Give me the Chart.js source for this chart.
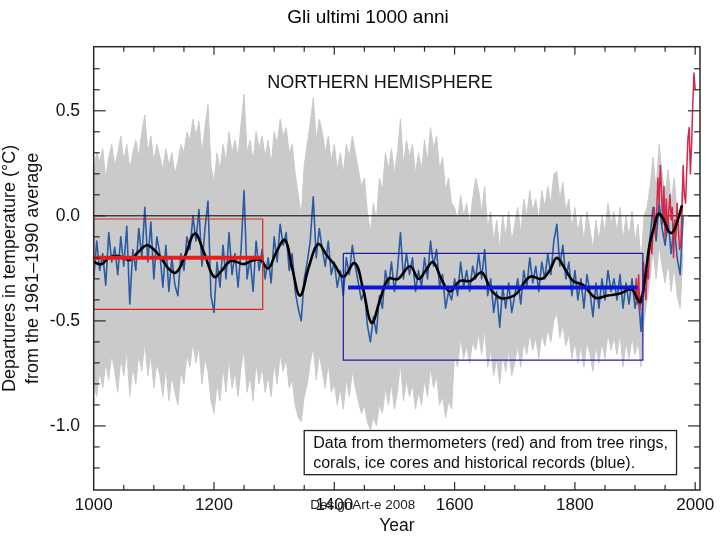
<!DOCTYPE html>
<html><head><meta charset="utf-8">
<script src="https://cdn.jsdelivr.net/npm/chart.js@4/dist/chart.umd.min.js"></script>
<style>html,body{margin:0;padding:0;background:#fff}</style>
</head><body>
<canvas id="c" width="720" height="540"></canvas>
<script>
// ---------- text ----------
const chartTitle = 'Gli ultimi 1000 anni';
const xTitle = 'Year';
const yTitle = ['Departures in temperature (\u00B0C)', 'from the 1961\u20131990 average'];
const panelLabel = 'NORTHERN HEMISPHERE';
const noteLines = ['Data from thermometers (red) and from tree rings,', 'corals, ice cores and historical records (blue).'];
const watermark = 'DesignArt-e 2008';

// ---------- ticks ----------
const xLabelTicks = [1000, 1200, 1400, 1600, 1800, 2000];
const xMinorTicks = [1050,1100,1150,1200,1250,1300,1350,1400,1450,1500,1550,1600,1650,1700,1750,1800,1850,1900,1950,2000];
const yLabelTicks = [-1.0, -0.5, 0.0, 0.5];
const yMinorTicks = [-1.2,-1.1,-1.0,-0.9,-0.8,-0.7,-0.6,-0.5,-0.4,-0.3,-0.2,-0.1,0.0,0.1,0.2,0.3,0.4,0.5,0.6,0.7];

// ---------- proxy reconstruction (5-year samples) ----------
const years = [
1000,1005,1010,1015,1020,1025,1030,1035,1040,1045,1050,1055,1060,1065,1070,1075,1080,1085,1090,1095,
1100,1105,1110,1115,1120,1125,1130,1135,1140,1145,1150,1155,1160,1165,1170,1175,1180,1185,1190,1195,
1200,1205,1210,1215,1220,1225,1230,1235,1240,1245,1250,1255,1260,1265,1270,1275,1280,1285,1290,1295,
1300,1305,1310,1315,1320,1325,1330,1335,1340,1345,1350,1355,1360,1365,1370,1375,1380,1385,1390,1395,
1400,1405,1410,1415,1420,1425,1430,1435,1440,1445,1450,1455,1460,1465,1470,1475,1480,1485,1490,1495,
1500,1505,1510,1515,1520,1525,1530,1535,1540,1545,1550,1555,1560,1565,1570,1575,1580,1585,1590,1595,
1600,1605,1610,1615,1620,1625,1630,1635,1640,1645,1650,1655,1660,1665,1670,1675,1680,1685,1690,1695,
1700,1705,1710,1715,1720,1725,1730,1735,1740,1745,1750,1755,1760,1765,1770,1775,1780,1785,1790,1795,
1800,1805,1810,1815,1820,1825,1830,1835,1840,1845,1850,1855,1860,1865,1870,1875,1880,1885,1890,1895,
1900,1905,1910,1915,1920,1925,1930,1935,1940,1945,1950,1955,1960,1965,1970,1975,1980];

const blueValues = [
-0.30,-0.12,-0.26,-0.18,-0.33,-0.08,-0.22,-0.15,-0.28,-0.10,-0.24,-0.05,-0.42,-0.16,-0.26,-0.06,-0.20,0.04,-0.22,-0.03,
-0.30,-0.10,-0.18,-0.34,-0.14,-0.36,-0.20,-0.33,-0.38,-0.18,-0.26,-0.10,-0.16,0.00,-0.12,0.03,-0.24,-0.06,0.07,-0.38,
-0.46,-0.22,-0.34,-0.14,-0.30,-0.08,-0.28,-0.18,-0.34,-0.16,0.12,-0.30,-0.20,-0.36,-0.12,-0.26,-0.16,-0.30,-0.20,-0.32,
-0.10,-0.22,-0.04,-0.14,-0.08,-0.26,-0.18,-0.36,-0.44,-0.50,-0.30,-0.22,-0.12,0.09,-0.20,-0.06,-0.16,-0.24,-0.12,-0.28,
-0.22,-0.34,-0.26,-0.38,-0.20,-0.28,-0.14,-0.24,-0.32,-0.40,-0.36,-0.52,-0.60,-0.48,-0.56,-0.38,-0.44,-0.26,-0.34,-0.22,
-0.36,-0.26,-0.08,-0.30,-0.18,-0.28,-0.20,-0.36,-0.26,-0.34,-0.20,-0.30,-0.12,-0.24,-0.16,-0.34,-0.28,-0.44,-0.36,-0.40,
-0.30,-0.38,-0.22,-0.34,-0.26,-0.36,-0.24,-0.30,-0.18,-0.30,-0.16,-0.38,-0.30,-0.46,-0.36,-0.53,-0.34,-0.44,-0.32,-0.46,
-0.38,-0.30,-0.42,-0.26,-0.34,-0.20,-0.32,-0.24,-0.36,-0.22,-0.30,-0.18,-0.28,-0.12,-0.04,-0.24,-0.14,-0.30,-0.22,-0.38,
-0.26,-0.40,-0.30,-0.44,-0.28,-0.36,-0.48,-0.32,-0.44,-0.30,-0.40,-0.26,-0.36,-0.30,-0.40,-0.28,-0.44,-0.32,-0.42,-0.30,
-0.44,-0.36,-0.55,-0.30,-0.22,-0.10,0.04,-0.12,0.06,-0.06,-0.14,-0.02,-0.18,-0.04,-0.20,-0.28,0.00];

const grayUpper = [
0.20,0.30,0.26,0.32,0.18,0.28,0.34,0.24,0.30,0.38,0.26,0.34,0.22,0.30,0.36,0.28,0.40,0.48,0.30,0.38,
0.26,0.34,0.28,0.22,0.32,0.24,0.30,0.20,0.26,0.34,0.30,0.40,0.36,0.46,0.38,0.45,0.30,0.42,0.53,0.24,
0.16,0.30,0.22,0.34,0.26,0.40,0.30,0.36,0.28,0.44,0.58,0.30,0.36,0.26,0.40,0.32,0.38,0.28,0.36,0.24,
0.40,0.34,0.46,0.38,0.42,0.30,0.34,0.20,0.10,0.00,0.24,0.34,0.44,0.56,0.36,0.46,0.40,0.30,0.38,0.26,
0.34,0.22,0.30,0.20,0.34,0.28,0.38,0.30,0.22,0.14,0.18,0.02,-0.08,0.06,-0.02,0.18,0.12,0.30,0.22,0.32,
0.20,0.30,0.46,0.24,0.36,0.28,0.34,0.20,0.30,0.22,0.36,0.26,0.42,0.32,0.38,0.22,0.28,0.12,0.18,0.06,
0.04,-0.02,0.10,0.00,0.06,-0.04,0.08,0.18,0.12,0.02,0.14,-0.06,0.02,-0.12,-0.02,-0.16,0.00,-0.10,0.02,-0.12,
-0.04,0.04,-0.08,0.08,0.00,0.12,0.02,0.08,-0.02,0.12,0.04,0.14,0.06,0.20,0.21,0.08,0.16,0.02,0.08,-0.06,
0.04,-0.08,0.00,-0.12,0.02,-0.06,-0.16,-0.02,-0.12,0.00,-0.08,0.06,-0.04,0.02,-0.08,0.04,-0.12,0.00,-0.10,0.02,
-0.12,-0.04,-0.22,0.00,0.04,0.14,0.28,0.12,0.34,0.20,0.10,0.22,0.06,0.18,0.02,-0.04,0.20];

const grayLower = [
-0.80,-0.86,-0.74,-0.82,-0.70,-0.78,-0.66,-0.74,-0.84,-0.68,-0.76,-0.64,-0.86,-0.72,-0.80,-0.66,-0.74,-0.60,-0.76,-0.66,
-0.82,-0.70,-0.76,-0.86,-0.72,-0.88,-0.76,-0.84,-0.90,-0.74,-0.80,-0.66,-0.72,-0.60,-0.70,-0.62,-0.80,-0.68,-0.74,-0.88,
-0.94,-0.80,-0.88,-0.72,-0.84,-0.68,-0.82,-0.74,-0.86,-0.72,-0.64,-0.84,-0.76,-0.88,-0.70,-0.80,-0.72,-0.84,-0.76,-0.86,
-0.70,-0.80,-0.66,-0.74,-0.68,-0.82,-0.78,-0.90,-0.96,-0.98,-0.86,-0.80,-0.70,-0.62,-0.78,-0.66,-0.74,-0.82,-0.70,-0.84,
-0.80,-0.90,-0.82,-0.92,-0.78,-0.86,-0.74,-0.82,-0.88,-0.94,-0.90,-0.98,-1.02,-0.96,-1.00,-0.90,-0.94,-0.82,-0.90,-0.80,
-0.92,-0.84,-0.70,-0.88,-0.78,-0.86,-0.80,-0.92,-0.84,-0.90,-0.78,-0.86,-0.72,-0.82,-0.76,-0.90,-0.86,-0.96,-0.88,-0.92,
-0.66,-0.72,-0.58,-0.68,-0.62,-0.70,-0.60,-0.64,-0.56,-0.66,-0.54,-0.72,-0.64,-0.76,-0.68,-0.80,-0.66,-0.74,-0.64,-0.76,
-0.70,-0.62,-0.72,-0.60,-0.66,-0.56,-0.64,-0.58,-0.68,-0.56,-0.62,-0.54,-0.60,-0.50,-0.46,-0.58,-0.52,-0.62,-0.56,-0.68,
-0.60,-0.70,-0.62,-0.72,-0.60,-0.66,-0.74,-0.62,-0.70,-0.60,-0.68,-0.56,-0.64,-0.58,-0.66,-0.56,-0.72,-0.60,-0.68,-0.58,
-0.66,-0.60,-0.72,-0.50,-0.40,-0.30,-0.16,-0.30,-0.14,-0.24,-0.32,-0.22,-0.36,-0.24,-0.38,-0.44,-0.18];

// ---------- smoothed curve ----------
const smoothYears = [1000,1013,1025,1038,1050,1060,1075,1088,1100,1112,1124,1137,1152,1168,1184,1200,1213,1227,1238,1249,
1262,1277,1290,1304,1318,1330,1343,1358,1373,1388,1401,1415,1434,1448,1462,1476,1490,1506,1526,1540,
1552,1564,1578,1592,1609,1626,1645,1660,1675,1690,1703,1725,1745,1758,1770,1785,1797,1814,1834,1853,
1875,1894,1903,1909,1917,1924,1932,1939,1948,1955,1962,1970,1978];
const smoothValues = [-0.22,-0.23,-0.20,-0.19,-0.20,-0.21,-0.17,-0.14,-0.16,-0.20,-0.25,-0.27,-0.19,-0.085,-0.18,-0.29,-0.26,-0.215,-0.22,-0.23,
-0.215,-0.21,-0.25,-0.17,-0.115,-0.25,-0.38,-0.24,-0.135,-0.19,-0.235,-0.29,-0.225,-0.35,-0.51,-0.40,-0.30,-0.30,-0.24,-0.30,
-0.26,-0.22,-0.30,-0.36,-0.31,-0.31,-0.27,-0.35,-0.39,-0.39,-0.37,-0.29,-0.30,-0.26,-0.20,-0.26,-0.31,-0.33,-0.39,-0.38,
-0.37,-0.35,-0.39,-0.41,-0.29,-0.14,-0.05,0.01,-0.02,-0.07,-0.08,-0.03,0.05];

// ---------- thermometer record ----------
const thermoYears = [1900,1902,1904,1906,1908,1910,1912,1914,1916,1918,1920,1922,1924,1926,1928,1930,1932,1934,1936,1938,
1940,1942,1944,1946,1948,1950,1952,1954,1956,1958,1960,1962,1964,1966,1968,1970,1972,1974,1976,1978,
1980,1982,1984,1986,1988,1990,1992,1994,1996,1998,2000];
const thermoValues = [-0.40,-0.30,-0.42,-0.28,-0.45,-0.38,-0.42,-0.22,-0.34,-0.40,-0.26,-0.30,-0.18,-0.10,-0.18,-0.06,0.04,-0.10,0.02,0.18,
0.06,0.24,0.12,-0.04,0.14,-0.10,0.08,-0.08,0.02,0.10,-0.02,0.04,-0.20,-0.02,-0.10,0.06,-0.06,-0.16,-0.14,0.02,
0.24,0.10,0.06,0.22,0.37,0.42,0.20,0.34,0.53,0.68,0.60];

// ---------- highlighted periods ----------
const zeroYears = [1000, 2008];
const zeroValues = [0, 0];
const redPeriod = [1000, 1281];
const redRange = [-0.015, -0.445];
const redMean = [-0.20, -0.20];
const bluePeriod = [1415, 1913];
const blueRange = [-0.179, -0.687];
const blueMeanPeriod = [1423, 1904];
const blueMean = [-0.341, -0.341];

// ---------- build ----------
const pts = (xs, ys) => xs.map((v, i) => ({ x: v, y: ys[i] }));
const box = (p, r) => [
  { x: p[0], y: r[0] }, { x: p[1], y: r[0] }, { x: p[1], y: r[1] }, { x: p[0], y: r[1] }, { x: p[0], y: r[0] }
];

const FONT = "'Liberation Sans', Arial, Helvetica, sans-serif";
Chart.defaults.font.family = FONT;
Chart.defaults.color = '#111';

const base = { pointRadius: 0, pointHoverRadius: 0, fill: false, tension: 0 };
const datasets = [
  { ...base, label: 'blue mean', data: pts(blueMeanPeriod, blueMean), borderColor: '#0a18d6', borderWidth: 4 },
  { ...base, label: 'blue period', data: box(bluePeriod, blueRange), borderColor: '#1c1ca6', borderWidth: 1.2 },
  { ...base, label: 'red mean', data: pts(redPeriod, redMean), borderColor: '#e81e1e', borderWidth: 4 },
  { ...base, label: 'red period', data: box(redPeriod, redRange), borderColor: '#dd2424', borderWidth: 1.2 },
  { ...base, label: 'smoothed', data: pts(smoothYears, smoothValues), borderColor: '#000', borderWidth: 2.6, tension: 0.4 },
  { ...base, label: 'thermometers', data: pts(thermoYears, thermoValues), borderColor: '#d2284c', borderWidth: 1.5, borderJoinStyle: 'round' },
  { ...base, label: 'zero', data: pts(zeroYears, zeroValues), borderColor: '#000', borderWidth: 1 },
  { ...base, label: 'proxy', data: pts(years, blueValues), borderColor: '#2a5c a4'.replace(' ', ''), borderWidth: 1.6, borderJoinStyle: 'round' },
  { ...base, label: 'upper', data: pts(years, grayUpper), borderColor: '#cacaca', borderWidth: 1, fill: '+1', backgroundColor: '#cacaca' },
  { ...base, label: 'lower', data: pts(years, grayLower), borderColor: '#cacaca', borderWidth: 1 }
];

const annotation = {
  panel: { x: 1476, y: 0.63 },
  note: { x0: 1350, x1: 1969, y0: -1.022, y1: -1.232 },
  mark: { x: 1360 }
};

const decor = {
  id: 'decor',
  afterDatasetsDraw(chart) {
    const { ctx, chartArea: a, scales: { x, y } } = chart;
    ctx.save();
    const ln = (x1, y1, x2, y2) => { ctx.beginPath(); ctx.moveTo(x1, y1); ctx.lineTo(x2, y2); ctx.stroke(); };
    ctx.strokeStyle = '#2a2a2a';
    ctx.lineWidth = 1.2;
    xMinorTicks.forEach(v => {
      const px = x.getPixelForValue(v);
      const len = xLabelTicks.includes(v) ? 8 : 5;
      ln(px, a.bottom, px, a.bottom - len);
      ln(px, a.top, px, a.top + len);
    });
    yMinorTicks.forEach(v => {
      const py = y.getPixelForValue(v);
      const len = yLabelTicks.includes(v) ? 12 : 6;
      ln(a.left, py, a.left + len, py);
      ln(a.right, py, a.right - len, py);
    });
    ctx.lineWidth = 1.5;
    ctx.strokeRect(a.left, a.top, a.right - a.left, a.bottom - a.top);

    // panel label
    ctx.fillStyle = '#111';
    ctx.font = '18px ' + FONT;
    ctx.textAlign = 'center';
    ctx.textBaseline = 'middle';
    ctx.fillText(panelLabel, x.getPixelForValue(annotation.panel.x), y.getPixelForValue(annotation.panel.y));

    // note box
    const n = annotation.note;
    const bx = x.getPixelForValue(n.x0), bx2 = x.getPixelForValue(n.x1);
    const by = y.getPixelForValue(n.y0), by2 = y.getPixelForValue(n.y1);
    ctx.fillStyle = '#fff';
    ctx.fillRect(bx, by, bx2 - bx, by2 - by);
    ctx.strokeStyle = '#222';
    ctx.lineWidth = 1.3;
    ctx.strokeRect(bx, by, bx2 - bx, by2 - by);
    ctx.fillStyle = '#111';
    ctx.font = '16px ' + FONT;
    ctx.textAlign = 'left';
    ctx.fillText(noteLines[0], bx + 9, by + 13);
    ctx.fillText(noteLines[1], bx + 9, by + 32.7);
    ctx.restore();
  },
  afterDraw(chart) {
    const { ctx, chartArea: a, scales: { x } } = chart;
    ctx.save();
    ctx.fillStyle = '#222';
    ctx.font = '13.5px ' + FONT;
    ctx.textAlign = 'left';
    ctx.textBaseline = 'middle';
    ctx.fillText(watermark, x.getPixelForValue(annotation.mark.x), a.bottom + 15);
    ctx.restore();
  }
};

new Chart(document.getElementById('c'), {
  type: 'line',
  data: { datasets },
  options: {
    responsive: false,
    animation: false,
    events: [],
    layout: { padding: { left: 36, right: 20, top: 0, bottom: 0 } },
    plugins: {
      legend: { display: false },
      tooltip: { enabled: false },
      title: { display: true, text: chartTitle, color: '#000', font: { size: 19, weight: 'normal' }, padding: { top: 6, bottom: 17.9 } }
    },
    scales: {
      x: {
        type: 'linear', min: 1000, max: 2008,
        grid: { display: false, drawTicks: false }, border: { display: false },
        afterBuildTicks: s => { s.ticks = xLabelTicks.map(v => ({ value: v })); },
        afterFit: s => { s.height = 50; },
        ticks: { font: { size: 17 }, color: '#111', padding: 5, maxRotation: 0, autoSkip: false, callback: v => String(v) },
        title: { display: true, text: xTitle, color: '#111', font: { size: 17.5 }, padding: { top: 0, bottom: 3.5 } }
      },
      y: {
        type: 'linear', min: -1.305, max: 0.805,
        grid: { display: false, drawTicks: false }, border: { display: false },
        afterBuildTicks: s => { s.ticks = yLabelTicks.map(v => ({ value: v })); },
        afterFit: s => { s.width = 57.7; },
        ticks: { font: { size: 17.5 }, color: '#111', padding: 13.7, callback: v => Number(v).toFixed(1) },
        title: { display: true, text: yTitle, color: '#111', font: { size: 18, lineHeight: 1.28 }, padding: { top: -37.5, bottom: 0 } }
      }
    }
  },
  plugins: [decor]
});
</script>
</body></html>
